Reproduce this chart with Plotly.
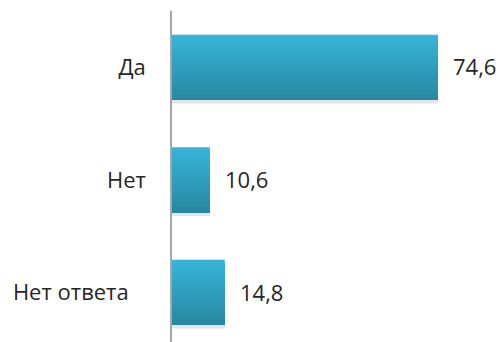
import plotly.graph_objects as go

categories = ["Да", "Нет", "Нет ответа"]
values = [74.6, 10.6, 14.8]
labels = ["74,6", "10,6", "14,8"]
tick_text = ["Да", "Нет", "Нет ответа\u00a0\u00a0\u00a0"]

top_color = (54, 180, 216)
bottom_color = (40, 136, 163)
bar_w = 0.58
n_slices = 24

fig = go.Figure()

# soft shadow
fig.add_trace(go.Bar(
    y=categories, x=values, orientation="h",
    width=bar_w, offset=-bar_w / 2 + 0.03,
    marker=dict(color="rgba(0,0,0,0.10)", line=dict(width=0)),
    hoverinfo="skip", showlegend=False,
))

for i in range(n_slices):
    t = i / (n_slices - 1)
    c = tuple(round(top_color[k] + (bottom_color[k] - top_color[k]) * t) for k in range(3))
    start = -bar_w / 2 + i * bar_w / n_slices
    fig.add_trace(go.Bar(
        y=categories, x=values, orientation="h",
        width=bar_w / 2 - start,
        offset=start,
        marker=dict(color="rgb(%d,%d,%d)" % c, line=dict(width=0)),
        hoverinfo="skip", showlegend=False,
    ))

for cat, v, lab in zip(categories, values, labels):
    fig.add_annotation(
        x=v, y=cat, text=lab, showarrow=False,
        xanchor="left", xshift=13, yshift=1,
        font=dict(family="Open Sans", size=22, color="#262626"),
    )

fig.update_layout(
    width=503, height=342,
    margin=dict(l=172, r=3, t=11, b=0),
    paper_bgcolor="white", plot_bgcolor="white",
    barmode="overlay",
    font=dict(family="Open Sans", size=22, color="#262626"),
    xaxis=dict(range=[0, 92], visible=False, fixedrange=True),
    yaxis=dict(
        categoryorder="array", categoryarray=categories,
        tickmode="array", tickvals=categories, ticktext=tick_text,
        range=[2.44, -0.502],
        showline=True, linecolor="#A6A6A6", linewidth=1.5,
        showgrid=False, zeroline=False, ticks="",
        ticklabelstandoff=20, automargin=False,
        tickfont=dict(family="Open Sans", size=22, color="#262626"),
    ),
)

fig.write_html("out.html", config={"displayModeBar": False},
               post_script="document.body.style.margin='0';")
